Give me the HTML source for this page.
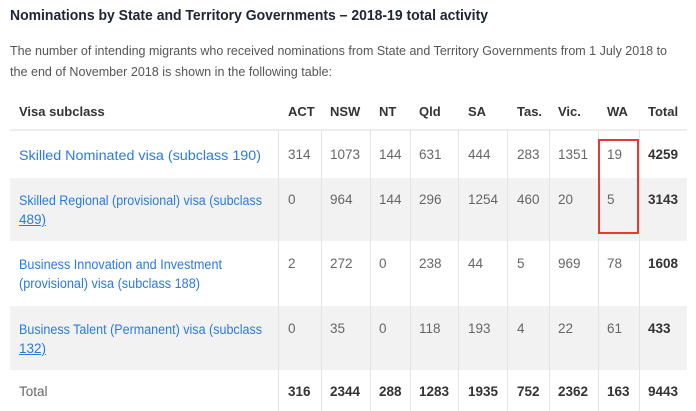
<!DOCTYPE html>
<html><head><meta charset="utf-8">
<style>
body{margin:0;width:696px;height:411px;overflow:hidden;background:#fff;font-family:"Liberation Sans",Arial,sans-serif;position:relative}
.a{position:absolute;white-space:nowrap}
.fit{display:inline-block;transform-origin:0 50%}
h1{position:absolute;left:10px;top:7px;margin:0;font-size:15px;font-weight:bold;color:#1d2433}
p{position:absolute;left:10px;margin:0;font-size:13px;color:#555}
.row{position:absolute;left:10px;width:677px}
.gray{background:#f2f2f2}
.vl{position:absolute;top:130px;height:281px;width:1px;background:#e4e4e4}
.hdr{font-size:13px;font-weight:bold;color:#333;top:104px}
.c{font-size:13.5px;color:#666}
.b{font-weight:bold;color:#333}
a{color:#2a7ae2;text-decoration:underline;font-size:13.5px;line-height:19px}
</style></head><body>
<h1><span class="fit" data-w="478">Nominations by State and Territory Governments – 2018-19 total activity</span></h1>
<p style="top:43px"><span class="fit" data-w="657">The number of intending migrants who received nominations from State and Territory Governments from 1 July 2018 to</span></p>
<p style="top:64px"><span class="fit" data-w="322">the end of November 2018 is shown in the following table:</span></p>

<div class="row" style="top:129px;height:2px;background:#eee"></div>
<div class="row gray" style="top:178px;height:63px"></div>
<div class="row gray" style="top:306px;height:64px"></div>
<div id="lines"></div>
<div id="tbl"></div>

<div class="a" style="left:598px;top:139px;width:37px;height:91px;border:2px solid #e53935"></div>

<script>
const cols=["ACT","NSW","NT","Qld","SA","Tas.","Vic.","WA","Total"];
const colX=[288,330,379,419,468,517,558,607,648];
const visaLines=[["Skilled Nominated visa (subclass 190)"],["Skilled Regional (provisional) visa (subclass","489)"],["Business Innovation and Investment","(provisional) visa (subclass 188)"],["Business Talent (Permanent) visa (subclass","132)"]];
const values=[[314,1073,144,631,444,283,1351,19,4259],[0,964,144,296,1254,460,20,5,3143],[2,272,0,238,44,5,969,78,1608],[0,35,0,118,193,4,22,61,433]];
const totals=[316,2344,288,1283,1935,752,2362,163,9443];
const rowTop=[146,191,255,320];
const lineW=[[242],[243,0],[203,181],[243,0]];
const tbl=document.getElementById('tbl');
const lines=document.getElementById('lines');
[278,321,370,410,458,507,549,598,639].forEach(x=>{const d=document.createElement('div');d.className='vl';d.style.left=x+'px';


lines.appendChild(d);});
function add(txt,x,y,cls,name){const s=document.createElement('div');s.className='a '+cls;s.style.left=x+'px';s.style.top=y+'px';s.textContent=txt;


tbl.appendChild(s);return s;}
add("Visa subclass",19,104,'hdr','visa-subclass-header');
cols.forEach((c,i)=>add(c,colX[i],104,'hdr','col-header-'+c.replace('.','').toLowerCase()));
visaLines.forEach((ls,r)=>{
  ls.forEach((l,k)=>{const s=document.createElement('a');s.className='a';s.href='#';s.style.left='19px';s.style.top=(rowTop[r]+k*19)+'px';
  const w=lineW[r][k];
  s.innerHTML=w?'<span class="fit" data-w="'+w+'">'+l+'</span>':l;
  
  
  tbl.appendChild(s);});
  values[r].forEach((v,i)=>add(String(v),colX[i],rowTop[r]+1,'c'+(i==8?' b':''),'cell-'+r+'-'+cols[i].replace('.','').toLowerCase()));
});
add("Total",19,384,'c','total-label');
totals.forEach((v,i)=>add(String(v),colX[i],384,'c b','total-'+cols[i].replace('.','').toLowerCase()));
document.querySelectorAll('.fit').forEach(e=>{const w=+e.dataset.w;const r=e.getBoundingClientRect().width;if(r>0)e.style.transform='scaleX('+(w/r)+')';});
</script>
</body></html>
